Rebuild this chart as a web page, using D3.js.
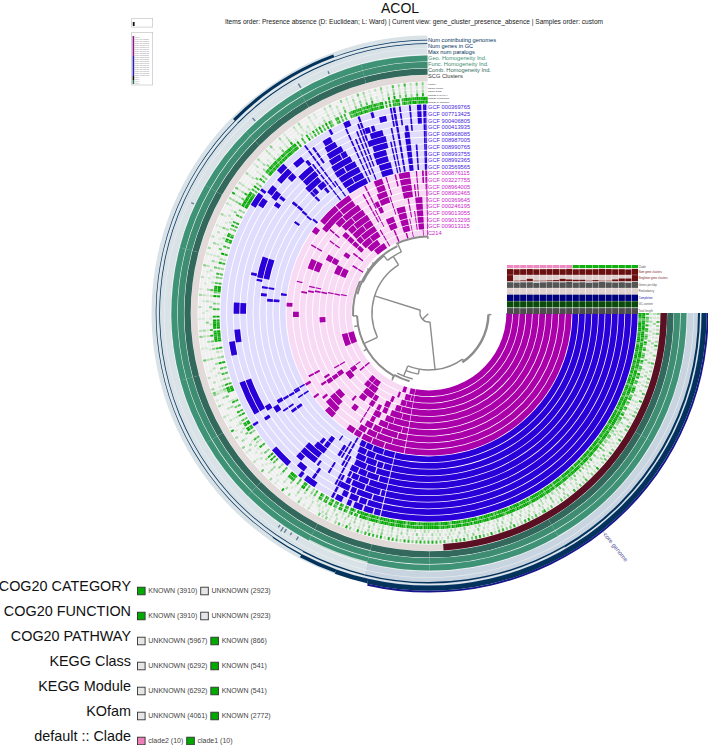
<!DOCTYPE html>
<html><head><meta charset="utf-8">
<script src="https://cdn.jsdelivr.net/npm/d3@7"></script>
<style>html,body{margin:0;padding:0;background:#fff}svg{display:block;font-family:"Liberation Sans",Arial,sans-serif}</style>
</head><body><div id="c"></div>
<script>
// ---------- DATA (all order positions are on the 0..270 gene-cluster axis) ----------
const samples=["C214","GCF 009013115","GCF 009013295","GCF 009013055","GCF 000246195","GCF 000369645","GCF 008962465","GCF 008964005","GCF 003227755","GCF 000876115","GCF 003569565","GCF 008992365","GCF 008993755","GCF 008990765","GCF 008987005","GCF 008968085","GCF 000413935","GCF 900406805","GCF 007713425","GCF 000369765"];
const clade=[2,2,2,2,2,2,2,2,2,2,1,1,1,1,1,1,1,1,1,1];
// [from, to, innerSample, outerSample]
const clade2Blocks=[[0,100,0,9],
[100.3,103.8,0,0],[100.3,102,1,1],[102.3,106,1,1],[100.3,104,2,2],[104.3,107.5,2,2],[100.3,106,3,3],[106.3,109.5,3,3],[100.3,104.5,4,4],[104.8,111,4,4],[100.3,108,5,5],[108.3,112.5,5,5],[100.3,103,6,6],[103.3,110,6,6],[110.3,114.5,6,6],[100.3,104.2,7,7],[104.6,112,7,7],[112.4,116,7,7],[100.3,106,8,8],[106.3,113,8,8],[113.4,117.5,8,8],[100.3,108.5,9,9],[108.9,114,9,9],[114.4,118.5,9,9],
[106.5,109,0,0],[109.6,111,1,1],[112.2,114,2,2],[114.6,116,3,3],[115.5,118,5,5],[116.7,120,7,7],[118.4,121.5,8,8],[119.2,122,9,9],[113,115.5,3,4],[117,119,4,6],
[122.5,125.5,9,9],[121,123.5,3,4],[124,126,2,3],[125,129,1,3],[129.3,132.5,1,2],[126.5,130,3,4],[127,129.5,6,6],
[133,137,9,9],[133.5,139.5,8,8],[134.5,140,7,7],[136,140,6,6],[143.5,144.4,9,9],[141,142,8,8],[146,147,7,7],[131,132,5,5],[122,122.6,5,7],
[145,147,5,6],[145,147.4,4,4],[140.2,142.8,3,3],[142.5,144.5,3,3],[142.5,144.8,2,2],[144.6,145.2,1,2],[149.7,150.4,3,4],[148,149,6,6],[149.5,150.6,9,9],[152,152.8,7,8],[140,141,0,1],
[158.5,166.5,0,1],[175.3,178,4,4],[178.5,180.8,8,8],[182.8,184.4,9,9],[189.2,190,7,7],[190.1,190.9,6,6],[190.7,191.5,4,5],[191.3,192,2,3],[191.7,192.4,1,1],[192.5,193.1,5,6],[193.5,194,8,8],
[200.5,205,6,7],[203,208,2,3],[207.5,210.5,4,5],[211.5,212.5,0,1],[210,210.6,7,8],[214,216.5,3,3],[215,217.5,9,9],[218.5,221.5,8,8],[216,216.6,5,6],[218,219,1,2],[220,220.7,6,7],
[222,224.5,2,5],[220.5,229,8,9],[229.4,236,9,9],[229.4,236,8,8],[224,228,7,7],[228.4,237,7,7],[225,231,6,6],[231.4,237.5,6,6],[226,229.5,5,5],[229.9,238,5,5],[226,233,4,4],[233.4,238,4,4],[225.5,228.5,3,3],[228.9,238,3,3],[226,232,2,2],[232.4,238,2,2],[227,235,1,1],[229,237.5,0,0],
[239.5,240.2,0,2],[241,241.6,4,8],[243.2,243.8,6,9],[242.5,243,3,5],[244,245.8,6,6],[244.3,246.3,5,5],[246.5,251,6,7],[247.5,251,8,9],[245.5,250,2,3],[247,248,0,1],[251.5,252,4,6],[252.5,253,7,9],
[253,257.5,1,4],[254,255,0,0],[256.3,256.9,8,9],[258,262.5,6,9],[259.7,260.3,3,5],[258.5,259,0,2],[262,262.6,1,3],[263.5,267,1,5],[263.6,264.2,6,7],[265,265.5,6,9],[266,266.5,0,0],[267.5,268.2,8,9],[268.8,269.2,7,9],[269.1,269.6,0,9]];
const clade1Blocks=[[0,103.5,10,19],
[103.8,108,10,10],[108.3,112.5,10,10],[112.9,115.5,10,10],[115.9,118,10,10],
[103.8,110.5,11,11],[110.9,114,11,11],[114.4,117.5,11,11],
[103.8,106.5,12,12],[106.9,109,12,12],[109.4,113.2,12,12],[113.6,117,12,12],
[103.8,108.5,13,13],[108.9,112,13,13],[112.4,116.5,13,13],
[103.8,106.8,14,14],[107.2,111,14,14],[111.3,114,14,14],[114.4,117,14,14],
[103.8,109.5,15,15],[109.9,113,15,15],[113.3,115.5,15,15],[115.9,116.8,15,15],
[103.8,105,16,16],[105.4,110,16,16],[110.4,114.5,16,16],[115,116.5,16,16],
[103.8,107,17,17],[107.4,112,17,17],[112.4,114,17,17],[114.5,117.5,17,17],
[103.8,108,18,18],[108.4,110.5,18,18],[111,113.5,18,18],[114.2,115.8,18,18],
[103.8,105.5,19,19],[105.9,108.5,19,19],[109,111.5,19,19],[112.3,113.5,19,19],[115,117,19,19],
[117.5,118.2,16,19],[118.5,119.1,13,17],[119.5,120.2,10,14],[121,121.6,11,13],[122,123,12,13],
[123.5,127,19,19],[124.8,125.6,17,18],[126,126.7,16,16],[127,128.6,12,13],[128,129,19,19],[128.5,131,18,18],[127,131,14,14],[127.5,133,15,16],[129.3,130.5,13,14],[131,133,17,17],[133,139,19,19],[122,122.6,15,16],[125,125.5,11,11],
[146.8,147.8,17,17],[147.3,148,19,19],[147,149,15,15],[149,150.6,16,16],[149.2,150.4,14,14],[149.2,150,11,13],[150,150.6,10,11],[146,146.6,13,14],[147,147.6,10,11],[144,145,12,13],
[150,160,17,18],[168,172,18,18],[171.5,175.3,17,17],[180,183.3,16,17],[184.3,185.3,11,12],[186,187,13,13],[187,187.9,10,10],[188.7,189.4,12,13],[190.8,191.5,14,14],[192.3,193.2,15,15],[192,199,13,14],
[211.5,215.5,19,19],[212.5,215,18,18],[215,216.3,16,16],[214,214.8,12,12],[216.2,217,19,19],[217,219.5,18,18],[216.5,219,17,17],[217.7,218.7,16,16],[218.9,219.8,13,14],[218.6,219.4,12,12],[218.3,219,11,11],[218.8,219.6,10,10],
[221.5,226,18,18],[223.5,226,19,19],[224,226,17,17],[226.5,228,13,13],[225.5,226.3,12,14],[226.5,231.5,15,16],[226,231,14,14],[228,231,18,18],[229,231.5,13,13],[230,231,12,12],[231,232,17,17],[232,232.5,10,16],[233.5,234,12,19],[234.5,235,10,12],[235,235.6,16,18],
[236.8,245.2,10,10],[236.5,240.5,11,11],[240.8,244.8,11,11],[236.5,244.5,12,12],[236.3,239.8,13,13],[240.2,244.2,13,13],[236.5,243.5,14,14],[237,240.9,15,15],[241.2,243,15,15],[237.5,242.5,16,16],[238,241.5,17,17],[238.5,241,18,18],[241.5,242.2,19,19],
[246,247.8,19,19],[245.8,246.3,10,18],[247.2,247.7,11,16],[248.4,248.9,10,17],[249.5,250,12,18],[251,252.5,17,17],[250.3,250.9,16,19],[251.5,256,10,11],[251,255.5,12,13],[251.5,256.5,14,14],[250.5,256.5,15,15],[252,256,16,16],[254,254.8,19,19],[256,258,18,18],[253,254,17,17],
[257.5,258,10,14],[258.6,259.1,10,16],[259.5,260,17,19],[260.3,261,10,19],[262.6,264.2,10,15],[263,264,16,16],[262,262.5,17,19],[264.8,265.3,16,19],[265.8,266.4,10,13],[267,268.2,17,19],[268.7,269.2,10,19],[269.2,269.6,10,19]];

// Known-function coverage per half-position step, level 0..9, one string per layer
const cogCategory=["998569989968789958999789969879989697998599878969989979598999","899679989789598999799698997969889598799989679989597989698899","998597989699979589998978698999798599989798699899579989699789","999879689979598999699798989597998699897906980780690870960780","690070300508800700799900060030007080900400070020600040880990","500807006007100009980700300600500800400108000987989098878090","006003000804999070040600300702008000600880960050708000600300","998999987060805007040089879798697989799878980800600904070608","060807500670606007679779698679788699070908779069779699699979"];
const cogFunction=["989589799699979589987999699798599879989679998598999789698989","999798698999789589997998699979589998979689978999598799689979","899679998979699989579989798699879989597989699979589798699899","989697989889579998699789897598997689890780960690880570980870","780060400709900600888800070040006090800500080030700060990880","600708005008200008890800400700600900300207000898798089989080","007004000905889060050700400803009000700790880040807000700400","989898898070904008050078698789688698788987890900700803080709","060908500780707006798788687988697689080807698078988788988898"];
const cogPathway=["706450807604750960580476085067409580760498705680740860590764","430604206503405060300401604030405020503201040050301302041030","100302001020100401002003010020100302001004010020301001020100","203010020103001020040100201003002010200301040020100300102001","020010100300200100400100020000300100300020010200100005002003","100200000300100500240300100020000300100004010500800700200100","000400100200600020010000500100200050010030100300020100040000","600500800300100050010030040100300100500200800100030020100200","100300100200300600100400500600700100200800900500600300700800"];
const keggClass=["102030100201003010020100401002010300201001030020100200104003","010020300102001040010200100302001010030020010300201004001020","300100201003001020100300201001020040100102003001020100201030","010200401002003010020100302001040020100301002010030100200102","100200010000300010000200001000300010002000100003000100020001","000100000200000300120100000100020000300001000300200100040000","010000200100300000100020000300100000200100000400100020010000","400200300100000200010000300100100000200100300000100100200100","000100200100100300100200400200300100100300500200300100200300"];
const keggModule=["201003001020100301002001040100203001020030010020100102003001","100302010020100100403001020100200301002010010030020103001002","010020030100201004001020301001002010040030100200103001020010","100302001020010030020100401002030010201003001000200100302010","000100000200100000300000100000200001000100000200000300000100","000200100000100000210000200000100000200000100000200300000100","100000100200000100000100200000100000300000200100000100000100","300100100200000100000200100000200100000100200000100200000100","100000100100200000100300100200100000200100300100200100100200"];
const kofam=["401060302050103070200401060203010503040106020801030405010206","050103070201040602050301080204010603050207010403060201050308","502060408070302080504070602080305080705020806070401060507080","706080604070803060708020806070807030801040802060300104020500","000200100400000300080000100300000500000200000100400000300080","100000200000300100450300000200000000500000100000400200000100","000200000300100000200000400000100300000200000100000300000200","300800500200000300000100300000200400000300100000200300000200","100000200300000400200100500300100200400100600300700200500400"];
// [from, to, value] genomes contributing, genes in cluster, paralogs
const contributing=[[0,103,20],[103,110,18],[110,118,14],[118,125,4],[125,225,1.5],[225,250,12],[250,270,1.5]];
const genesInCluster=[[0,60,5],[60,104,3.5],[104,118,3],[118,225,1.5],[225,250,2.2],[250,270,1.5]];
const geneSpikes=[[122,3],[123.4,4],[124.2,5],[125.1,3],[120.3,4],[240.5,5],[228,4],[205,3],[247.5,3]];
const homogeneityPositions=[0,30,60,90,104,118,135,150,165,180,195,210,225,240,255,270];
const combHomogeneity=[1,1,1,1,.98,1,1,1,1,1,1,1,1,1,1];
const funcHomogeneity=[.97,.97,.97,.96,.95,.98,.97,.98,.99,.98,.98,.98,.97,.97,.98];
const geoHomogeneity=[.93,.92,.93,.9,.7,.9,.92,.95,.95,.93,.94,.93,.92,.93,.93];
const scgCore=[0,86.6];
const coreBin=[0,102.9];
// dendrogram: arcs [radius, from, to] and radial branches [position, r0, r1]
const treeArcs=[[9,84,197.8],[57,155,238],[57,54,112],[59.5,1.5,56],[62,100,112],[68,104,118],[71,106,119.5],[72,119,178],[76,178,205],[74,195,245],[67,232,246],[76.5,245,269.5],[73,205,232]];
const treeBranches=[[137,1,9],[197.8,9,57],[84,9,57],[54,57,59.5],[112,57,68],[100,57,62],[155,57,72],[238,57,67],[232,67,74],[246,67,76.5],[178,72,76],[205,74,76],[1.5,59.5,62.5],[119,72,77],[269.5,74,77],[119.5,71,75],[216,73,76],[222,73,76],[170,72,76],[150,72,75.5]];
// sample layers above the half circle (one value per sample, inner to outer)
const numGeneClusters=[.92,.88,.9,.93,.88,.9,.92,.92,.9,.95,.88,.9,.88,.9,.95,.92,.88,.9,.85,.95];
const singletons=[1,.1,.15,.4,.1,.1,.15,.2,.4,.3,.25,.25,.1,.2,.1,.1,.3,.45,.45,1];
const genesPerKbp=[.9,.85,.88,.9,.8,.88,.92,.9,.88,.95,.85,.9,.82,.88,.95,.88,.85,.9,.82,.95];
const redundancy=[.08,.06,.06,.08,.06,.06,.08,.06,.06,.08,.06,.08,.06,.06,.08,.06,.06,.08,.06,.06];
const completion=[1,1,1,1,1,1,1,1,1,1,1,1,1,1,1,1,1,1,1,1];
const gcContent=[1,1,1,1,1,1,1,1,1,1,1,1,1,1,1,1,1,1,1,1];
const totalLength=[.95,.95,.93,.95,.95,.96,.95,.95,.93,.95,.95,.95,.95,.93,.95,.95,.95,.95,.95,.95];
const rowNames=["Num gene clusters","Singleton gene clusters","Genes per kbp","Redundancy","Completion","GC-content","Total length"];
const ringLabels=["Num contributing genomes","Num genes in GC","Max num paralogs","Geo. Homogeneity Ind.","Func. Homogeneity Ind.","Comb. Homogeneity Ind.","SCG Clusters"];
const funcLabels=["KOfam","KEGG Module","KEGG Class","COG20 PATHWAY","COG20 FUNCTION","COG20 CATEGORY"];
const legendTitles=["COG20 CATEGORY","COG20 FUNCTION","COG20 PATHWAY","KEGG Class","KEGG Module","KOfam","default :: Clade"];
const legendEntries=[[["KNOWN (3910)",1],["UNKNOWN (2923)",0]],[["KNOWN (3910)",1],["UNKNOWN (2923)",0]],[["UNKNOWN (5967)",0],["KNOWN (866)",1]],[["UNKNOWN (6292)",0],["KNOWN (541)",1]],[["UNKNOWN (6292)",0],["KNOWN (541)",1]],[["UNKNOWN (4061)",0],["KNOWN (2772)",1]],[["clade2 (10)",2],["clade1 (10)",1]]];

// ---------- LAYOUT ----------
const W=708,H=745,cx=429,cy=313;
const GREEN="#00a800",MAG="#aa00aa",BLUE="#2a00d8",MAGBG="#f9daf5",BLUEBG="#e0dcfd",NAVY="#03335c";
const svg=d3.select("#c").append("svg").attr("width",W).attr("height",H);
const plot=svg.append("g").attr("transform",`translate(${cx},${cy})`);
const ang=d3.scaleLinear().domain([0,270]).range([Math.PI/2,2*Math.PI-0.006]);
const ringR=d3.scaleLinear().domain([0,20]).range([77,209]);
const arc=d3.arc();
function band(g,r0,r1,a0,a1,fill){g.append("path").attr("d",arc({innerRadius:r0,outerRadius:r1,startAngle:ang(a0),endAngle:ang(a1)})).attr("fill",fill);}

// sample ring backgrounds and presence blocks
const rings=plot.append("g");
samples.forEach((s,i)=>band(rings,ringR(i)+.45,ringR(i+1)-.45,0,270,clade[i]===2?MAGBG:BLUEBG));
function drawBlocks(list,color){
  rings.selectAll(null).data(list).enter().append("path")
   .attr("fill",color)
   .attr("d",d=>{
     const parts=[];
     for(let i=d[2];i<=d[3];i++) parts.push(arc({innerRadius:ringR(i)+.4,outerRadius:ringR(i+1)-.4,startAngle:ang(d[0]),endAngle:ang(d[1])}));
     return parts.join("");
   });
}
drawBlocks(clade2Blocks,MAG);
drawBlocks(clade1Blocks,BLUE);

// functional annotation layers
const fr=d3.scaleLinear().domain([0,6]).range([209.3,231]);
const layers=[cogCategory,cogFunction,cogPathway,keggClass,keggModule,kofam];
const greenScale=d3.scaleLinear().domain([0,9]).range(["#f0f0f0",GREEN]);
const step=d3.scaleLinear().domain([0,540]).range([0,270]);
const fg=plot.append("g");
layers.forEach((lines,k)=>{
  band(fg,fr(k)+.2,fr(k+1)-.2,0,270,"#f0f0f0");
  const vals=lines.join("").split("").map(Number);
  fg.selectAll(null).data(vals.map((v,i)=>({v,i})).filter(d=>d.v>0)).enter().append("path")
    .attr("fill",d=>greenScale(d.v))
    .attr("d",d=>arc({innerRadius:fr(k)+.2,outerRadius:fr(k+1)-.2,startAngle:ang(step(d.i)),endAngle:ang(step(d.i+1))}));
});
// SCG
const outer=plot.append("g");
band(outer,231.5,238,0,270,"#e2dad8");
band(outer,231.5,238,scgCore[0],scgCore[1],"#5a0f22");
// homogeneity
const homBand=(vals,r0,r1,color)=>{
  const h=d3.scaleLinear().domain([0,1]).range([r0,r1]);
  vals.forEach((v,i)=>{band(outer,r0,h(v),homogeneityPositions[i],homogeneityPositions[i+1],color);});
};
homBand(combHomogeneity,238.3,244.6,"#33695c");
band(outer,245.1,251.3,0,270,"#cfe0da");
band(outer,251.8,258,0,270,"#cfe0da");
homBand(funcHomogeneity,245.1,251.3,"#3e8d72");
homBand(geoHomogeneity,251.8,258,"#3e9276");
// numeric rings
band(outer,258.4,277.5,0,104,"#c9d4e1");band(outer,258.4,277.5,104,270,"#d8e2e7");
band(outer,264.5,265,0,270,"#eef2f5");
band(outer,271.3,271.8,0,270,"#eef2f5");
const contribR=d3.scaleLinear().domain([0,20]).range([272.6,277.4]);
contributing.forEach(d=>band(outer,272.6,contribR(d[2])+.3,d[0],d[1],NAVY));
const genesR=d3.scaleLinear().domain([0,6]).range([269,271.2]);
genesInCluster.forEach(d=>band(outer,269,genesR(d[2])+.2,d[0],d[1],NAVY));
geneSpikes.forEach(d=>band(outer,259,259+d[1],d[0],d[0]+.3,"#5f7f94"));
// core bin
band(outer,277.7,279.6,coreBin[0],coreBin[1],"#16168a");
const midA=(coreBin[0]+coreBin[1])/2;
const mid=d3.scaleLinear().domain([0,270]).range([0,270])(midA)*Math.PI/180;
plot.append("line").attr("x1",Math.cos(mid)*279.6).attr("y1",Math.sin(mid)*279.6).attr("x2",Math.cos(mid)*283).attr("y2",Math.sin(mid)*283).attr("stroke","#9a9ac4").attr("stroke-width",.6);
plot.append("text").attr("transform",`translate(${Math.cos(mid)*281},${Math.sin(mid)*281}) rotate(${midA})`).attr("x",1).attr("dy",2).attr("font-size",6).attr("fill","#50509a").text("core genome");

// dendrogram
const tree=plot.append("g").attr("fill","none").attr("stroke","#8c8c8c").attr("stroke-width",1.6);
const aL=d=>ang(d)-Math.PI/2;
treeArcs.forEach(d=>{const p=d3.path();p.arc(0,0,d[0],aL(d[1]),aL(d[2]));tree.append("path").attr("d",p.toString()).attr("stroke-width",d[0]===59.5?2.4:(d[0]>=71?2:1.4));});
treeBranches.forEach(d=>{const a=aL(d[0]);tree.append("line").attr("x1",Math.cos(a)*d[1]).attr("y1",Math.sin(a)*d[1]).attr("x2",Math.cos(a)*d[2]).attr("y2",Math.sin(a)*d[2]).attr("stroke-width",1.4);});

// sample layers
const colX=d3.scaleBand().domain(d3.range(samples.length)).range([507,638]).paddingInner(.07);
const hm=svg.append("g");
hm.selectAll(null).data(clade).enter().append("rect").attr("x",(d,i)=>colX(i)).attr("y",265).attr("width",colX.bandwidth()).attr("height",3).attr("fill",d=>d===2?"#ee88c0":"#10b010");
const rowDefs=[[numGeneClusters,"#6b1010","#dcc8c8"],[singletons,"#6b1010","#e0cfcf"],[genesPerKbp,"#555","#ddd"],[redundancy,"#a08a88","#dfd2cf"],[completion,"#00007f","#ccd"],[gcContent,"#0a4a0a","#cdc"],[totalLength,"#4d4d4d","#ddd"]];
const rowY=d3.scaleBand().domain(d3.range(rowDefs.length)).range([268.6,314]).paddingInner(.05);
rowDefs.forEach((def,k)=>{
  const h=d3.scaleLinear().domain([0,1]).range([0,rowY.bandwidth()]);
  def[0].forEach((v,i)=>{
    hm.append("rect").attr("x",colX(i)).attr("y",rowY(k)).attr("width",colX.bandwidth()).attr("height",rowY.bandwidth()).attr("fill",def[2]);
    hm.append("rect").attr("x",colX(i)).attr("y",rowY(k)+rowY.bandwidth()-h(v)).attr("width",colX.bandwidth()).attr("height",h(v)).attr("fill",def[1]);
  });
  hm.append("text").attr("x",638.5).attr("y",rowY(k)+rowY.bandwidth()/2+1).attr("font-size",2.8).attr("fill",k===4?"#2222aa":k===0||k===1?"#7a2020":"#555").text(rowNames[k]);
});
hm.append("text").attr("x",638.5).attr("y",267.5).attr("font-size",2.8).attr("fill","#555").text("Clade");

// top labels
const lab=svg.append("g").attr("font-size",5.7);
const labColors=[NAVY,NAVY,NAVY,"#3e9276","#3e8d72","#33695c","#333"];
const labY=d3.scaleLinear().domain([0,7]).range([42,84]);
ringLabels.forEach((t,i)=>lab.append("text").attr("x",428).attr("y",labY(i)).attr("fill",labColors[i]).text(t));
const smallY=d3.scaleLinear().domain([0,5]).range([85,103]);
funcLabels.forEach((t,i)=>lab.append("text").attr("x",428).attr("y",smallY(i)).attr("font-size",2.4).attr("fill","#333").text(t));
samples.forEach((s,i)=>lab.append("text").attr("x",428).attr("y",cy-ringR(i)-1.2).attr("fill",clade[i]===2?"#cc22cc":"#4422e0").text(s));

// title
svg.append("text").attr("x",400).attr("y",12.5).attr("text-anchor","middle").attr("font-size",14).attr("fill","#111").text("ACOL");
svg.append("text").attr("x",414).attr("y",24).attr("text-anchor","middle").attr("font-size",6.6).attr("fill","#222").text("Items order: Presence absence (D: Euclidean; L: Ward) | Current view: gene_cluster_presence_absence | Samples order: custom");

// mini legends
const mini=svg.append("g");
mini.append("rect").attr("x",131.7).attr("y",18.5).attr("width",21).attr("height",8.6).attr("fill","#fff").attr("stroke","#bbb").attr("stroke-width",.6);
mini.append("rect").attr("x",132.8).attr("y",22).attr("width",1.8).attr("height",4).attr("fill","#111");
mini.append("rect").attr("x",131.7).attr("y",32.5).attr("width",21).attr("height",52.5).attr("fill","#fff").attr("stroke","#bbb").attr("stroke-width",.6);
const miniY=d3.scaleBand().domain(d3.range(24)).range([36,84]);
const miniColor=i=>i<10?"#8a1a8a":i<20?"#2a20b0":i<22?"#111":"#2f6b58";
d3.range(24).forEach(i=>{
  mini.append("rect").attr("x",132.6).attr("y",miniY(i)).attr("width",1.6).attr("height",miniY.bandwidth()).attr("fill",miniColor(i));
  mini.append("text").attr("x",135).attr("y",miniY(i)+1.6).attr("font-size",1.9).attr("fill","#888").text(i<20?samples[i]:"layer");
});

// bottom legends
const leg=svg.append("g");
const legY=d3.scaleBand().domain(d3.range(7)).range([571,746]);
const swFill=v=>v===1?GREEN:v===2?"#ee7fb8":"#e6e6e6";
legendTitles.forEach((t,i)=>{
  const y=legY(i)+19.7;
  leg.append("text").attr("x",131).attr("y",y).attr("text-anchor","end").attr("font-size",14.4).attr("fill","#111").text(t);
  let x=137.5;
  legendEntries[i].forEach(e=>{
    leg.append("rect").attr("x",x).attr("y",y-3.5).attr("width",7.6).attr("height",7.6).attr("fill",swFill(e[1])).attr("stroke","#333").attr("stroke-width",.9);
    const tx=leg.append("text").attr("x",x+10.8).attr("y",y+2.2).attr("font-size",7).attr("fill","#444").text(e[0]);
    x+=10.8+tx.node().getComputedTextLength()+3.4;
  });
});
</script></body></html>
